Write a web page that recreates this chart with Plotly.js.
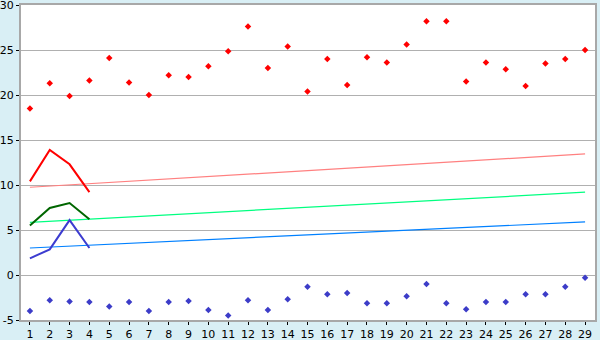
<!DOCTYPE html>
<html>
<head>
<meta charset="utf-8">
<script src="https://cdn.plot.ly/plotly-3.0.1.min.js"></script>
<style>html,body{margin:0;padding:0;background:#d9eff5;}</style>
</head>
<body>
<div id="chart" style="width:600px;height:340px;"></div>
<script>
const days = [1,2,3,4,5,6,7,8,9,10,11,12,13,14,15,16,17,18,19,20,21,22,23,24,25,26,27,28,29];
const highPoints = [18.5,21.3,19.9,21.6,24.1,21.4,20.0,22.2,22.0,23.2,24.85,27.6,23.0,25.4,20.4,24.0,21.1,24.2,23.6,25.6,28.2,28.2,21.5,23.6,22.85,21.0,23.5,24.0,25.0];
const lowPoints = [-4.0,-2.8,-2.95,-3.0,-3.5,-3.0,-4.0,-3.0,-2.9,-3.9,-4.5,-2.8,-3.9,-2.7,-1.3,-2.15,-2.0,-3.15,-3.15,-2.35,-1.0,-3.15,-3.8,-3.0,-3.0,-2.15,-2.15,-1.3,-0.3];
const shortDays = [1,2,3,4];
const redLine = [10.4,13.9,12.3,9.2];
const greenLine = [5.5,7.45,8.0,6.2];
const blueLine = [1.85,2.85,6.1,3.0];
const trendDays = [1,29];
const redTrend = [9.75,13.45];
const greenTrend = [5.85,9.2];
const blueTrend = [3.0,5.9];
const yTickVals = [-5,0,5,10,15,20,25,30];
const yTickText = ['-5','0','5','10','15','20','25','30'];

const traces = [
  {x: trendDays, y: redTrend, mode:'lines', line:{color:'#ff8080', width:1.2}},
  {x: trendDays, y: greenTrend, mode:'lines', line:{color:'#00ff80', width:1.2}},
  {x: trendDays, y: blueTrend, mode:'lines', line:{color:'#0080ff', width:1.2}},
  {x: shortDays, y: redLine, mode:'lines', line:{color:'#ff0000', width:2}},
  {x: shortDays, y: greenLine, mode:'lines', line:{color:'#006600', width:2}},
  {x: shortDays, y: blueLine, mode:'lines', line:{color:'#3c3cd0', width:2}},
  {x: days, y: highPoints, mode:'markers', marker:{symbol:'diamond', size:5, color:'#ff0000'}},
  {x: days, y: lowPoints, mode:'markers', marker:{symbol:'diamond', size:5, color:'#3c3cc8'}}
];

const layout = {
  width:600, height:340,
  paper_bgcolor:'#d9eff5', plot_bgcolor:'#ffffff',
  margin:{l:21, r:5, t:5, b:20},
  showlegend:false,
  font:{family:'DejaVu Sans, Verdana, sans-serif', size:11, color:'#000000'},
  xaxis:{
    range:[0.55, 29.5], tickmode:'array', tickvals:days, ticktext:days.map(String),
    showgrid:false, zeroline:false, showline:true, linecolor:'#a8a8a8', linewidth:2, mirror:true,
    ticks:'outside', ticklen:3, tickcolor:'#000000', tickfont:{size:11}, ticklabeloverflow:'allow'
  },
  yaxis:{
    range:[-5, 30], tickmode:'array', tickvals:yTickVals, ticktext:yTickText,
    showgrid:true, gridcolor:'#b0b0b0', gridwidth:1,
    zeroline:false, showline:true, linecolor:'#a8a8a8', linewidth:2, mirror:true,
    ticks:'outside', ticklen:3, tickcolor:'#000000', tickfont:{size:11}, ticklabeloverflow:'allow'
  }
};
Plotly.newPlot('chart', traces, layout, {displayModeBar:false, staticPlot:true});
</script>
</body>
</html>
